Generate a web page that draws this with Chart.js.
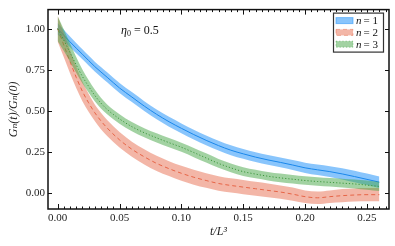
<!DOCTYPE html>
<html>
<head>
<meta charset="utf-8">
<script src="https://cdn.jsdelivr.net/npm/chart.js@4/dist/chart.umd.min.js"></script>
<style>
  html,body{margin:0;padding:0;background:#fff;}
  #wrap{width:395px;height:246px;}
</style>
</head>
<body>
<div id="wrap"><canvas id="c" width="395" height="246"></canvas></div>
<script>
// t/L^3 sample points
const tVals = [0, 0.005, 0.01, 0.015, 0.02, 0.025, 0.03, 0.035, 0.04, 0.05, 0.06, 0.07, 0.08, 0.09, 0.10,
  0.11, 0.12, 0.13, 0.14, 0.15, 0.16, 0.17, 0.18, 0.19, 0.20, 0.21, 0.22, 0.23, 0.24, 0.25, 0.26];

// n = 1
const g1 = [1.00, 0.96, 0.92, 0.882, 0.845, 0.807, 0.77, 0.737, 0.705, 0.64, 0.585, 0.53, 0.48, 0.435, 0.395,
  0.357, 0.322, 0.29, 0.262, 0.24, 0.22, 0.203, 0.188, 0.172, 0.155, 0.143, 0.132, 0.118, 0.102, 0.085, 0.068];
const e1 = [0.035, 0.033, 0.032, 0.031, 0.03, 0.03, 0.03, 0.03, 0.03, 0.03, 0.03, 0.03, 0.03, 0.03, 0.03,
  0.03, 0.03, 0.03, 0.03, 0.03, 0.03, 0.03, 0.03, 0.03, 0.031, 0.032, 0.033, 0.034, 0.035, 0.035, 0.035];

// n = 2
const g2 = [1.00, 0.90, 0.80, 0.705, 0.62, 0.55, 0.49, 0.44, 0.397, 0.325, 0.268, 0.222, 0.182, 0.15, 0.122,
  0.098, 0.078, 0.06, 0.048, 0.038, 0.028, 0.018, 0.008, -0.005, -0.02, -0.027, -0.02, -0.014, -0.01, -0.008, -0.008];
const e2 = [0.078, 0.074, 0.07, 0.065, 0.06, 0.055, 0.05, 0.05, 0.048, 0.047, 0.046, 0.046, 0.046, 0.045, 0.045,
  0.045, 0.044, 0.044, 0.043, 0.043, 0.042, 0.042, 0.04, 0.04, 0.038, 0.038, 0.038, 0.04, 0.04, 0.04, 0.04];

// n = 3
const g3 = [1.00, 0.93, 0.855, 0.78, 0.71, 0.65, 0.595, 0.548, 0.51, 0.452, 0.405, 0.368, 0.337, 0.308, 0.28,
  0.248, 0.215, 0.182, 0.155, 0.132, 0.117, 0.104, 0.094, 0.086, 0.078, 0.072, 0.067, 0.062, 0.057, 0.050, 0.042];
const e3 = [0.075, 0.065, 0.055, 0.048, 0.042, 0.038, 0.035, 0.032, 0.03, 0.029, 0.028, 0.028, 0.028, 0.028, 0.028,
  0.028, 0.028, 0.027, 0.027, 0.027, 0.026, 0.026, 0.026, 0.026, 0.026, 0.026, 0.026, 0.027, 0.027, 0.028, 0.028];

const xTicks = [0, 0.05, 0.10, 0.15, 0.20, 0.25];
const yTicks = [0, 0.25, 0.50, 0.75, 1.00];

const SERIF = '"Liberation Serif", "DejaVu Serif", serif';

const series = [
  {label:'n = 1', g:g1, e:e1, line:'rgb(25,135,235)', band:'rgba(40,150,250,0.55)', dash:[], order:30},
  {label:'n = 2', g:g2, e:e2, line:'rgb(230,100,70)', band:'rgba(232,110,80,0.5)', dash:[4,3], order:20},
  {label:'n = 3', g:g3, e:e3, line:'rgb(60,150,60)', band:'rgba(70,165,70,0.5)', dash:[1.2,2], order:10},
];

const pts = (arr)=>tVals.map((t,i)=>({x:t, y:arr[i]}));

const datasets = [];
series.forEach(s=>{
  datasets.push({label:s.label+' hi', data: pts(s.g.map((v,i)=>v+s.e[i])), borderWidth:0,
    backgroundColor:s.band, fill:'+1', order:s.order+2});
  datasets.push({label:s.label+' lo', data: pts(s.g.map((v,i)=>v-s.e[i])), borderWidth:0,
    backgroundColor:s.band, fill:false, order:s.order+1});
  datasets.push({label:s.label, data: pts(s.g), borderColor:s.line, borderWidth:1,
    borderDash:s.dash, fill:false, order:s.order});
});

// frame, inward ticks, legend and annotation
const decor = {
  id:'decor',
  afterDatasetsDraw(chart){
    const {ctx, chartArea:a, scales:{x, y}} = chart;
    ctx.save();
    ctx.strokeStyle = '#111';
    ctx.lineWidth = 1;
    ctx.beginPath();
    for (let k=0; k<=53; k++){
      const v = k*0.005;
      const px = Math.round(x.getPixelForValue(v))+0.5;
      const len = (k%10===0) ? 5 : 2.5;
      ctx.moveTo(px, a.bottom); ctx.lineTo(px, a.bottom-len);
      ctx.moveTo(px, a.top); ctx.lineTo(px, a.top+len);
    }
    yTicks.forEach(v=>{
      const py = Math.round(y.getPixelForValue(v))+0.5;
      ctx.moveTo(a.left, py); ctx.lineTo(a.left+4, py);
      ctx.moveTo(a.right, py); ctx.lineTo(a.right-4, py);
    });
    ctx.stroke();
    ctx.lineWidth = 1.5;
    ctx.strokeRect(a.left, a.top, a.right-a.left, a.bottom-a.top);

    // eta_0 = 0.5
    ctx.fillStyle = '#111';
    ctx.textBaseline = 'alphabetic';
    let ax = a.left + 73, ay = a.top + 24;
    ctx.font = 'italic 12px ' + SERIF;
    ctx.fillText('η', ax, ay);
    ax += ctx.measureText('η').width;
    ctx.font = '8px ' + SERIF;
    ctx.fillText('0', ax, ay+2);
    ax += ctx.measureText('0').width + 3;
    ctx.font = '12px ' + SERIF;
    ctx.fillText('= 0.5', ax, ay);

    // legend
    const bw = 50, bh = 39;
    const bx = a.right - 6 - bw, by = a.top + 3;
    ctx.fillStyle = '#fff';
    ctx.fillRect(bx, by, bw, bh);
    ctx.lineWidth = 1.2;
    ctx.strokeStyle = '#333';
    ctx.strokeRect(bx+0.5, by+0.5, bw, bh);
    series.forEach((s,i)=>{
      const cy = by + 8 + i*11.8;
      ctx.fillStyle = s.band;
      ctx.fillRect(bx+3, cy-3, 17, 6);
      ctx.strokeStyle = s.band;
      ctx.lineWidth = 1;
      ctx.setLineDash(s.dash);
      ctx.strokeRect(bx+3, cy-3, 17, 6);
      ctx.setLineDash([]);
      ctx.fillStyle = '#111';
      ctx.textBaseline = 'middle';
      ctx.font = 'italic 11px ' + SERIF;
      let tx = bx + 23;
      ctx.fillText('n', tx, cy+0.5);
      tx += ctx.measureText('n').width + 2;
      ctx.font = '11px ' + SERIF;
      ctx.fillText('= ' + (i+1), tx, cy+0.5);
    });
    ctx.restore();
  }
};

new Chart(document.getElementById('c'), {
  type:'line',
  data:{datasets},
  options:{
    responsive:false,
    devicePixelRatio:1,
    animation:false,
    elements:{point:{radius:0}, line:{cubicInterpolationMode:'monotone'}},
    layout:{padding:{top:5, right:6, left:0, bottom:0}},
    plugins:{legend:{display:false}, tooltip:{enabled:false}},
    scales:{
      x:{
        type:'linear', min:-0.0078, max:0.2678,
        grid:{display:false, drawTicks:false}, border:{display:false},
        afterBuildTicks:(s)=>{ s.ticks = xTicks.map(v=>({value:v})); },
        afterFit:(s)=>{ s.height = 37; },
        ticks:{padding:3, maxRotation:0, color:'#222', font:{family:SERIF, size:11},
          callback:(v)=>(+v).toFixed(2)},
        title:{display:true, text:'t/L³', color:'#222', padding:{top:0, bottom:7},
          font:{family:SERIF, size:12, style:'italic'}}
      },
      y:{
        type:'linear', min:-0.095, max:1.116,
        grid:{display:false, drawTicks:false}, border:{display:false},
        afterBuildTicks:(s)=>{ s.ticks = yTicks.map(v=>({value:v})); },
        afterFit:(s)=>{ s.width = 48; },
        ticks:{padding:3, color:'#222', font:{family:SERIF, size:11},
          callback:(v)=>(+v).toFixed(2)},
        title:{display:true, text:'Gₙ(t)/Gₙ(0)', color:'#222', padding:{top:7, bottom:0},
          font:{family:SERIF, size:12, style:'italic'}}
      }
    }
  },
  plugins:[decor]
});
</script>
</body>
</html>
